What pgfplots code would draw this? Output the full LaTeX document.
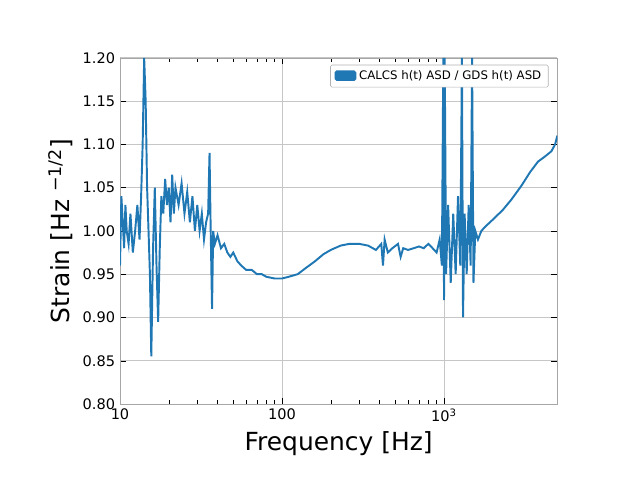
\documentclass[border=0pt]{standalone}
\usepackage{pgfplots}
\pgfplotsset{compat=1.18}
\usepackage{fontspec}
\setmainfont{DejaVu Sans}
\definecolor{c0}{RGB}{31,119,180}
\begin{document}
\begin{tikzpicture}[x=0.01in,y=0.01in]
\path[use as bounding box] (-120,-76) rectangle (520,404);
\begin{axis}[at={(0,0)},anchor=south west,
 scale only axis, width=4.37in, height=3.46in,
 xmode=log, xmin=10, xmax=5000, ymin=0.80, ymax=1.20,
 xtick={10,100,1000}, xticklabels={10,100,10\textsuperscript{3}},
 ytick={0.80,0.85,...,1.21},
 yticklabel style={/pgf/number format/.cd,fixed,fixed zerofill,precision=2},
 /pgf/number format/assume math mode=true,
 tick label style={font=\fontsize{10.5}{12}\selectfont},
 grid=major, major grid style={gray!45,line width=0.5pt},
 axis line style={gray!70},
 tick align=inside, tick style={black},
 xlabel={Frequency [Hz]}, ylabel={Strain [Hz \textsuperscript{−1/2}]},
 label style={font=\fontsize{18}{20}\selectfont},
 legend style={at={(0.98,0.98)},anchor=north east,font=\fontsize{8.5}{10}\selectfont,draw=gray!60,rounded corners=1pt},
 legend image code/.code={\fill[c0] (0cm,-0.1cm) rectangle (0.5cm,0.12cm);},
]
\addplot[c0, line width=1.4pt] coordinates {
(10,0.96)(10.2,1.04)(10.4,1.01)(10.6,0.98)(10.8,1.03)(11,1.0)(11.3,0.985)(11.6,1.02)(12,0.975)(12.4,1.0)(12.8,1.03)(13.2,0.99)(13.5,1.04)(13.8,1.10)(14.1,1.20)(14.4,1.15)(14.7,1.05)(15,1.0)(15.3,0.95)(15.6,0.855)(16,0.98)(16.4,1.05)(16.8,0.96)(17.2,0.895)(17.6,0.98)(18,1.04)(18.5,1.02)(19,1.06)(19.5,1.03)(20,1.05)(20.5,1.01)(21,1.065)(21.5,1.02)(22,1.05)(23,1.03)(24,1.055)(25,1.02)(26,1.045)(27,1.01)(28,1.04)(29,1.0)(30,1.03)(31,1.0)(32,1.02)(33,0.99)(34,1.01)(35,1.02)(35.7,1.09)(36.3,1.0)(37,0.91)(37.6,1.0)(38.5,0.985)(40,0.995)(42,0.98)(44,0.985)(46,0.975)(48,0.97)(50,0.975)(53,0.965)(56,0.96)(60,0.955)(65,0.955)(70,0.95)(75,0.95)(80,0.947)(90,0.945)(100,0.945)(110,0.947)(125,0.95)(140,0.957)(160,0.965)(180,0.973)(200,0.978)(230,0.983)(260,0.985)(300,0.985)(340,0.983)(380,0.978)(410,0.985)(420,0.96)(430,0.99)(450,0.975)(480,0.98)(520,0.985)(540,0.97)(560,0.98)(600,0.978)(650,0.98)(700,0.982)(750,0.98)(800,0.985)(850,0.98)(900,0.975)(940,0.99)(970,0.96)(990,1.2)(1000,0.92)(1010,1.2)(1030,0.95)(1060,1.03)(1100,0.94)(1140,1.02)(1180,0.95)(1220,1.04)(1260,0.96)(1290,1.2)(1310,0.90)(1340,1.02)(1380,0.95)(1420,1.03)(1460,0.96)(1490,1.2)(1520,0.94)(1560,1.0)(1620,0.99)(1700,1.0)(1800,1.005)(2000,1.013)(2300,1.024)(2600,1.036)(3000,1.052)(3400,1.068)(3800,1.080)(4200,1.086)(4600,1.092)(4850,1.1)(5000,1.11)
};
\addlegendentry{CALCS h(t) ASD / GDS h(t) ASD}
\end{axis}
\end{tikzpicture}
\end{document}
